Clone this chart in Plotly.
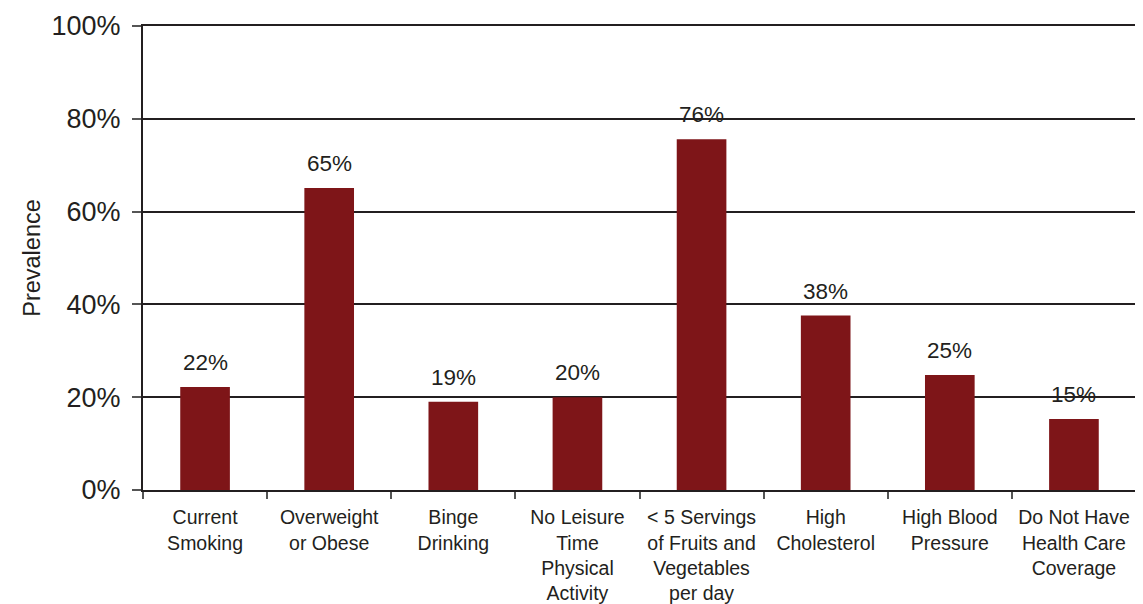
import plotly.graph_objects as go

categories = [
    "Current<br>Smoking",
    "Overweight<br>or Obese",
    "Binge<br>Drinking",
    "No Leisure<br>Time<br>Physical<br>Activity",
    "< 5 Servings<br>of Fruits and<br>Vegetables<br>per day",
    "High<br>Cholesterol",
    "High Blood<br>Pressure",
    "Do Not Have<br>Health Care<br>Coverage",
]
values = [22.2, 65.1, 19.0, 20.0, 75.6, 37.6, 24.8, 15.3]
labels = ["22%", "65%", "19%", "20%", "76%", "38%", "25%", "15%"]
y_ticks = [0, 20, 40, 60, 80, 100]
y_ticktext = ["0%", "20%", "40%", "60%", "80%", "100%"]

FONT = "Liberation Sans, Arial, sans-serif"
TXT = "#231f20"
BAR = "#7e1518"

fig = go.Figure()
fig.add_trace(go.Bar(
    x=categories, y=values,
    marker=dict(color=BAR, line=dict(width=0)),
    hoverinfo="skip",
))

for c, v, t in zip(categories, values, labels):
    fig.add_annotation(
        x=c, y=v, text=t, showarrow=False, yanchor="bottom",
        yshift=10, font=dict(family=FONT, size=22.5, color=TXT),
    )

# the page body adds an 8px offset, so the figure is sized to fit the window
fig.update_layout(
    width=1135, height=596,
    margin=dict(l=135, r=7, t=18, b=114),
    paper_bgcolor="white", plot_bgcolor="white",
    bargap=0.6,
    showlegend=False,
    font=dict(family=FONT, color=TXT),
)
fig.update_xaxes(
    type="category",
    automargin=False,
    tickson="boundaries",
    ticks="outside", ticklen=7, tickcolor="#555555", tickwidth=1.5,
    showline=True, linecolor=TXT, linewidth=2, mirror=True,
    showgrid=False,
    tickfont=dict(family=FONT, size=19.5, color=TXT),
    ticklabelstandoff=9,
)
fig.update_yaxes(
    automargin=False,
    range=[0, 100],
    tickvals=y_ticks, ticktext=y_ticktext,
    ticks="outside", ticklen=9, tickcolor="#555555", tickwidth=1.5,
    showline=True, linecolor=TXT, linewidth=2, mirror=True,
    showgrid=True, gridcolor=TXT, gridwidth=2,
    zeroline=False,
    tickfont=dict(family=FONT, size=27, color=TXT),
    ticklabelstandoff=6,
    title=dict(text="Prevalence", font=dict(family=FONT, size=23.5, color=TXT), standoff=4),
)

fig.write_html("out.html")
